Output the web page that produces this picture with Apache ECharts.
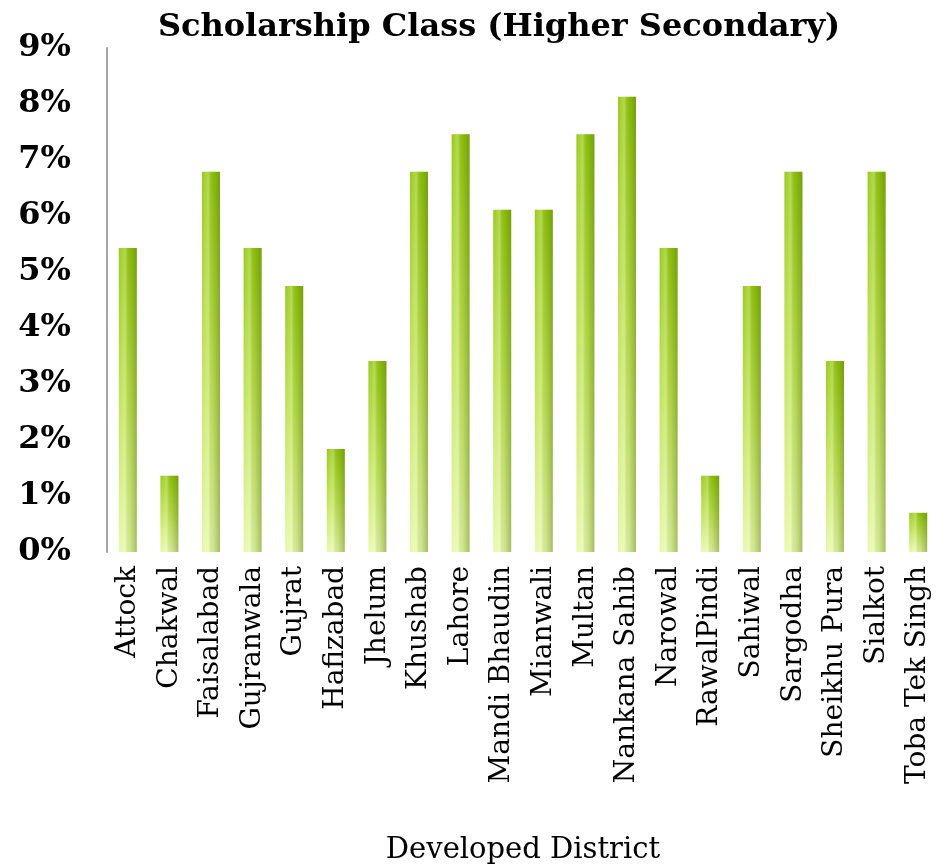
<!DOCTYPE html>
<html>
<head>
<meta charset="utf-8">
<script src="https://cdn.jsdelivr.net/npm/echarts@6/dist/echarts.min.js"></script>
<style>
  html, body { margin: 0; padding: 0; background: #fff; }
  #chart { width: 942px; height: 864px; }
</style>
</head>
<body>
<div id="chart"></div>
<script>
const districts = [
  "Attock", "Chakwal", "Faisalabad", "Gujranwala", "Gujrat", "Hafizabad",
  "Jhelum", "Khushab", "Lahore", "Mandi Bhaudin", "Mianwali", "Multan",
  "Nankana Sahib", "Narowal", "RawalPindi", "Sahiwal", "Sargodha",
  "Sheikhu Pura", "Sialkot", "Toba Tek Singh",
];
const shares = [
  5.43, 1.36, 6.79, 5.43, 4.75, 1.84, 3.41, 6.79, 7.46, 6.11,
  6.11, 7.46, 8.13, 5.43, 1.36, 4.75, 6.79, 3.41, 6.79, 0.70,
];
const yTicks = [0, 1, 2, 3, 4, 5, 6, 7, 8, 9];

const serif = "'DejaVu Serif', serif";
const chart = echarts.init(document.getElementById("chart"));

chart.setOption({
  animation: false,
  title: {
    text: "Scholarship Class (Higher Secondary)",
    left: 494,
    top: 7,
    textAlign: "center",
    textStyle: { fontFamily: serif, fontWeight: "bold", fontSize: 32, color: "#000" },
  },
  grid: { left: 107, right: 3, top: 48, bottom: 312, containLabel: false, outerBoundsMode: "none" },
  xAxis: {
    type: "category",
    data: districts,
    axisLine: { show: false },
    axisTick: { show: false },
    axisLabel: {
      rotate: 90,
      interval: 0,
      margin: 14,
      fontFamily: serif,
      fontSize: 28,
      color: "#000",
    },
    name: "Developed District",
    nameLocation: "middle",
    nameGap: 284,
    nameTextStyle: { fontFamily: serif, fontSize: 29, color: "#000" },
  },
  yAxis: {
    type: "value",
    min: yTicks[0],
    max: yTicks[yTicks.length - 1],
    interval: 1,
    splitLine: { show: false },
    axisTick: { show: false },
    axisLine: { show: true, lineStyle: { color: "#a6a6a6", width: 2 } },
    axisLabel: {
      margin: 36,
      fontFamily: serif,
      fontWeight: "bold",
      fontSize: 32,
      color: "#000",
      formatter: (v) => v + "%",
    },
  },
  series: [
    {
      type: "bar",
      data: shares,
      barWidth: 18,
      itemStyle: {
        color: new echarts.graphic.LinearGradient(0, 0, 0, 1, [
          { offset: 0, color: "#93c70c" },
          { offset: 0.5, color: "#bde24f" },
          { offset: 1, color: "#e6f8a6" },
        ]),
      },
    },
    {
      type: "bar",
      data: shares,
      barWidth: 18,
      barGap: "-100%",
      silent: true,
      itemStyle: {
        color: new echarts.graphic.LinearGradient(0, 0, 1, 0, [
          { offset: 0, color: "rgba(255,255,255,0.05)" },
          { offset: 0.35, color: "rgba(255,255,240,0.3)" },
          { offset: 0.6, color: "rgba(80,110,10,0.12)" },
          { offset: 1, color: "rgba(70,100,10,0.4)" },
        ]),
      },
    },
  ],
});
</script>
</body>
</html>
